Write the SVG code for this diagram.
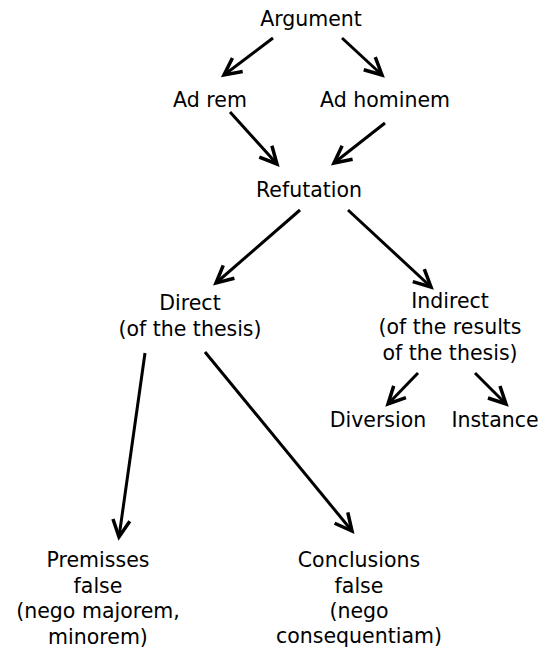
<svg xmlns="http://www.w3.org/2000/svg" width="541" height="650" viewBox="0 0 541 650">
<style>
text{font-family:"DejaVu Sans",sans-serif;font-size:20.5px;fill:#000;text-anchor:middle}
.c{stroke:#000;stroke-width:3;fill:none;marker-end:url(#ah)}
</style>
<defs>
<marker id="ah" markerUnits="userSpaceOnUse" markerWidth="40" markerHeight="40" viewBox="-25 -20 40 40" refX="0" refY="0" orient="auto" overflow="visible">
<path d="M-17,-8.5 L0,0 L-17,8.5" fill="none" stroke="#000" stroke-width="3.5" stroke-linecap="butt" stroke-linejoin="miter"/>
</marker>
</defs>
<rect width="541" height="650" fill="#fff"/>
<g id="connectors">
<line class="c" x1="273" y1="38" x2="224" y2="75"/>
<line class="c" x1="342" y1="38" x2="382" y2="75"/>
<line class="c" x1="230" y1="112" x2="277" y2="164"/>
<line class="c" x1="385" y1="123" x2="334" y2="163"/>
<line class="c" x1="300" y1="210" x2="216" y2="283"/>
<line class="c" x1="348" y1="210" x2="431" y2="287"/>
<line class="c" x1="418" y1="373" x2="388" y2="404"/>
<line class="c" x1="475" y1="373" x2="506" y2="404"/>
<line class="c" x1="145" y1="353" x2="119" y2="537"/>
<line class="c" x1="205" y1="352" x2="352" y2="531"/>
</g>
<g id="argument"><text x="311" y="26">Argument</text></g>
<g id="ad-rem"><text x="210" y="107">Ad rem</text></g>
<g id="ad-hominem"><text x="385" y="107">Ad hominem</text></g>
<g id="refutation"><text x="309" y="197">Refutation</text></g>
<g id="direct"><text x="190" y="310">Direct</text><text x="190" y="336">(of the thesis)</text></g>
<g id="indirect"><text x="450" y="308">Indirect</text><text x="450" y="334">(of the results</text><text x="450" y="360">of the thesis)</text></g>
<g id="diversion"><text x="378" y="427">Diversion</text></g>
<g id="instance"><text x="495" y="427">Instance</text></g>
<g id="premisses"><text x="98" y="567">Premisses</text><text x="98" y="593">false</text><text x="98" y="618">(nego majorem,</text><text x="98" y="644">minorem)</text></g>
<g id="conclusions"><text x="359" y="567">Conclusions</text><text x="359" y="593">false</text><text x="359" y="618">(nego</text><text x="359" y="643">consequentiam)</text></g>
</svg>
